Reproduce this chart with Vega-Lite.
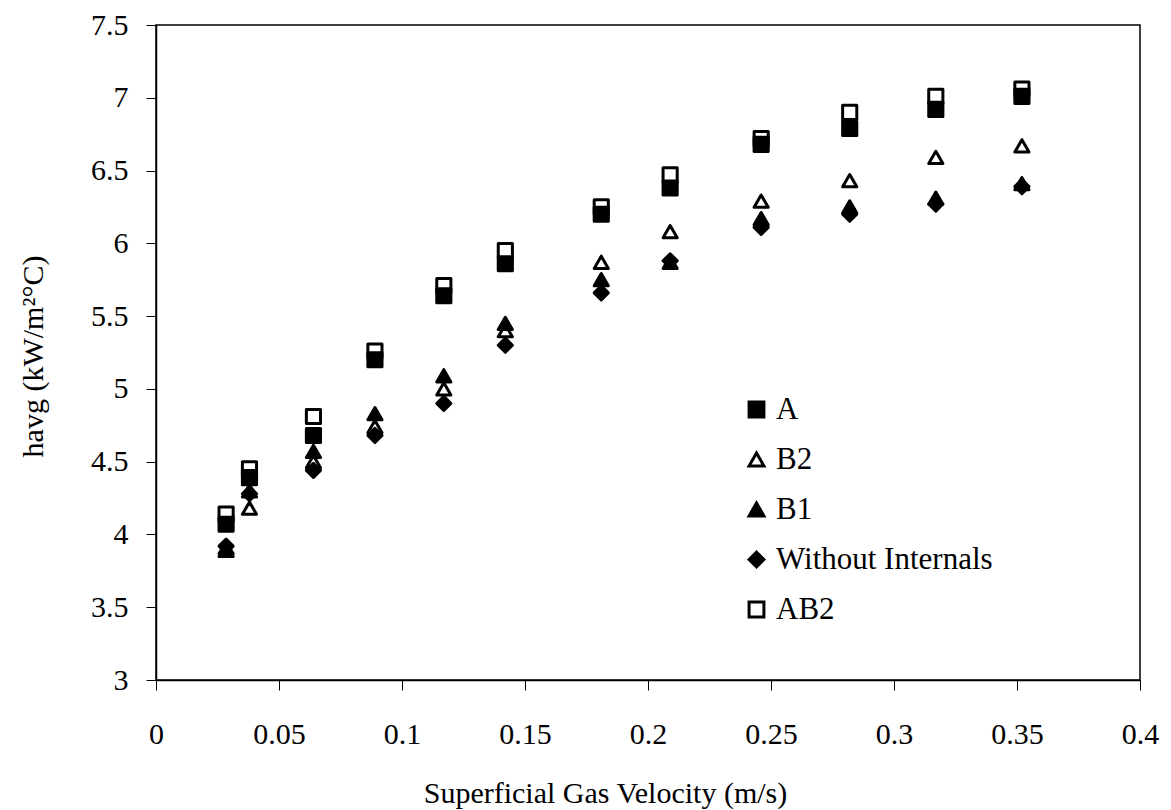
{
  "$schema": "https://vega.github.io/schema/vega-lite/v6.json",
  "width": 984,
  "height": 655,
  "autosize": {"type": "none"},
  "padding": {"left": 156, "top": 25, "right": 31, "bottom": 130},
  "background": "white",
  "config": {
    "font": "Liberation Serif",
    "view": {"stroke": "black", "strokeWidth": 1.5},
    "axis": {
      "grid": false,
      "domainColor": "black",
      "domainWidth": 1.5,
      "tickColor": "black",
      "tickWidth": 1,
      "tickSize": 10,
      "labelColor": "black",
      "labelFontSize": 30,
      "labelFlush": false,
      "labelOverlap": false,
      "titleColor": "black",
      "titleFontSize": 30,
      "titleFontWeight": "normal"
    },
    "legend": {
      "title": null,
      "orient": "none",
      "legendX": 585,
      "legendY": 369,
      "padding": 0,
      "rowPadding": 18,
      "symbolSize": 220,
      "labelFontSize": 31,
      "labelColor": "black",
      "labelOffset": 4,
      "labelLimit": 400
    }
  },
  "data": {
    "values": [
      {"v": 0.0285, "h": 4.07, "s": "A"},
      {"v": 0.038, "h": 4.39, "s": "A"},
      {"v": 0.064, "h": 4.68, "s": "A"},
      {"v": 0.089, "h": 5.2, "s": "A"},
      {"v": 0.117, "h": 5.64, "s": "A"},
      {"v": 0.142, "h": 5.86, "s": "A"},
      {"v": 0.181, "h": 6.2, "s": "A"},
      {"v": 0.209, "h": 6.38, "s": "A"},
      {"v": 0.246, "h": 6.68, "s": "A"},
      {"v": 0.282, "h": 6.79, "s": "A"},
      {"v": 0.317, "h": 6.92, "s": "A"},
      {"v": 0.352, "h": 7.01, "s": "A"},
      {"v": 0.0285, "h": 3.89, "s": "B2"},
      {"v": 0.038, "h": 4.18, "s": "B2"},
      {"v": 0.064, "h": 4.5, "s": "B2"},
      {"v": 0.089, "h": 4.74, "s": "B2"},
      {"v": 0.117, "h": 5.0, "s": "B2"},
      {"v": 0.142, "h": 5.4, "s": "B2"},
      {"v": 0.181, "h": 5.87, "s": "B2"},
      {"v": 0.209, "h": 6.08, "s": "B2"},
      {"v": 0.246, "h": 6.29, "s": "B2"},
      {"v": 0.282, "h": 6.43, "s": "B2"},
      {"v": 0.317, "h": 6.59, "s": "B2"},
      {"v": 0.352, "h": 6.67, "s": "B2"},
      {"v": 0.0285, "h": 3.91, "s": "B1"},
      {"v": 0.038, "h": 4.3, "s": "B1"},
      {"v": 0.064, "h": 4.57, "s": "B1"},
      {"v": 0.089, "h": 4.83, "s": "B1"},
      {"v": 0.117, "h": 5.09, "s": "B1"},
      {"v": 0.142, "h": 5.45, "s": "B1"},
      {"v": 0.181, "h": 5.75, "s": "B1"},
      {"v": 0.209, "h": 5.87, "s": "B1"},
      {"v": 0.246, "h": 6.17, "s": "B1"},
      {"v": 0.282, "h": 6.25, "s": "B1"},
      {"v": 0.317, "h": 6.31, "s": "B1"},
      {"v": 0.352, "h": 6.41, "s": "B1"},
      {"v": 0.0285, "h": 3.92, "s": "Without Internals"},
      {"v": 0.038, "h": 4.28, "s": "Without Internals"},
      {"v": 0.064, "h": 4.44, "s": "Without Internals"},
      {"v": 0.089, "h": 4.68, "s": "Without Internals"},
      {"v": 0.117, "h": 4.9, "s": "Without Internals"},
      {"v": 0.142, "h": 5.3, "s": "Without Internals"},
      {"v": 0.181, "h": 5.66, "s": "Without Internals"},
      {"v": 0.209, "h": 5.88, "s": "Without Internals"},
      {"v": 0.246, "h": 6.11, "s": "Without Internals"},
      {"v": 0.282, "h": 6.2, "s": "Without Internals"},
      {"v": 0.317, "h": 6.27, "s": "Without Internals"},
      {"v": 0.352, "h": 6.39, "s": "Without Internals"},
      {"v": 0.0285, "h": 4.14, "s": "AB2"},
      {"v": 0.038, "h": 4.45, "s": "AB2"},
      {"v": 0.064, "h": 4.81, "s": "AB2"},
      {"v": 0.089, "h": 5.26, "s": "AB2"},
      {"v": 0.117, "h": 5.71, "s": "AB2"},
      {"v": 0.142, "h": 5.95, "s": "AB2"},
      {"v": 0.181, "h": 6.25, "s": "AB2"},
      {"v": 0.209, "h": 6.47, "s": "AB2"},
      {"v": 0.246, "h": 6.72, "s": "AB2"},
      {"v": 0.282, "h": 6.9, "s": "AB2"},
      {"v": 0.317, "h": 7.01, "s": "AB2"},
      {"v": 0.352, "h": 7.06, "s": "AB2"}
    ]
  },
  "mark": {
    "type": "point",
    "size": 200,
    "stroke": "black",
    "strokeWidth": 3,
    "strokeJoin": "round",
    "opacity": 1
  },
  "encoding": {
    "x": {
      "field": "v",
      "type": "quantitative",
      "scale": {"domain": [0, 0.4], "nice": false, "zero": false},
      "axis": {
        "values": [0, 0.05, 0.1, 0.15, 0.2, 0.25, 0.3, 0.35, 0.4],
        "format": ".2~f",
        "labelBaseline": "alphabetic",
        "labelPadding": 53,
        "title": "Superficial Gas Velocity (m/s)",
        "titleX": 449,
        "titleY": 122,
        "titleAlign": "center",
        "titleBaseline": "alphabetic"
      }
    },
    "y": {
      "field": "h",
      "type": "quantitative",
      "scale": {"domain": [3, 7.5], "nice": false, "zero": false},
      "axis": {
        "values": [3, 3.5, 4, 4.5, 5, 5.5, 6, 6.5, 7, 7.5],
        "format": ".1~f",
        "labelPadding": 18,
        "title": "havg (kW/m²°C)",
        "titleAngle": 270,
        "titleX": -114,
        "titleY": 331,
        "titleAlign": "center",
        "titleBaseline": "alphabetic"
      }
    },
    "shape": {
      "field": "s",
      "type": "nominal",
      "scale": {
        "domain": ["A", "B2", "B1", "Without Internals", "AB2"],
        "range": ["square", "triangle-up", "triangle-up", "diamond", "square"]
      },
      "legend": {
        "symbolStrokeWidth": 3,
        "encode": {
          "symbols": {
            "update": {
              "stroke": {"value": "black"},
              "strokeWidth": {"value": 3},
              "strokeJoin": {"value": "round"},
              "opacity": {"value": 1}
            }
          }
        }
      }
    },
    "fill": {
      "field": "s",
      "type": "nominal",
      "scale": {
        "domain": ["A", "B2", "B1", "Without Internals", "AB2"],
        "range": ["black", "white", "black", "black", "transparent"]
      },
      "legend": {
        "symbolStrokeWidth": 3,
        "encode": {
          "symbols": {
            "update": {
              "stroke": {"value": "black"},
              "strokeWidth": {"value": 3},
              "strokeJoin": {"value": "round"},
              "opacity": {"value": 1}
            }
          }
        }
      }
    }
  }
}
